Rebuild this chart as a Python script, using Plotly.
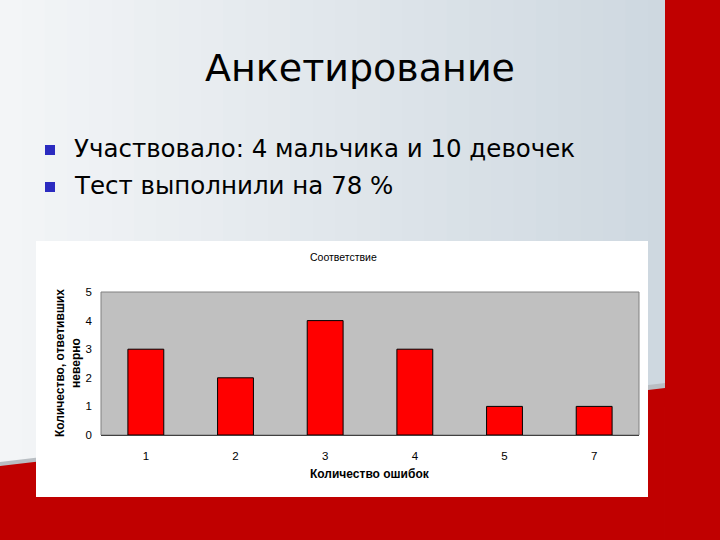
import plotly.graph_objects as go

# ---- data ----
categories = ["1", "2", "3", "4", "5", "7"]
counts = [3, 2, 4, 3, 1, 1]
y_ticks = [0, 1, 2, 3, 4, 5]

slide_title = "Анкетирование"
bullets = ["Участвовало: 4 мальчика и 10 девочек", "Тест выполнили на 78 %"]
chart_title = "Соответствие"
x_title = "Количество ошибок"
y_title = "Количество, ответивших<br>неверно"

W, H = 720, 540
PL, PR, PT, PB = 101, 639, 292, 435  # plot area in pixels


def px(x):
    return (x - PL) / (PR - PL)


def py(y):
    return (PB - y) / (PB - PT)


def lerp(c1, c2, t):
    return "rgb(%d,%d,%d)" % tuple(round(a + (b - a) * t) for a, b in zip(c1, c2))


shapes = []
# background gradient strips
c_left, c_right = (243, 245, 247), (206, 216, 224)
n = 30
for i in range(n):
    x0 = i * 670 / n
    x1 = (i + 1) * 670 / n + 1
    shapes.append(dict(type="rect", xref="paper", yref="paper", layer="below",
                       x0=px(x0), x1=px(x1), y0=py(0), y1=py(H),
                       fillcolor=lerp(c_left, c_right, i / (n - 1)), line=dict(width=0)))
# gray shadow line above red at bottom-left
shapes.append(dict(type="path", xref="paper", yref="paper", layer="below",
                   path="M %f,%f L %f,%f L %f,%f L %f,%f Z" % (
                       px(0), py(462), px(665), py(383), px(665), py(389), px(0), py(468)),
                   fillcolor="rgb(185,190,195)", line=dict(width=0)))
# red bottom region
shapes.append(dict(type="path", xref="paper", yref="paper", layer="below",
                   path="M %f,%f L %f,%f L %f,%f L %f,%f Z" % (
                       px(0), py(466), px(665), py(388), px(665), py(H), px(0), py(H)),
                   fillcolor="#c00000", line=dict(width=0)))
# red right band
shapes.append(dict(type="rect", xref="paper", yref="paper", layer="below",
                   x0=px(665), x1=px(W), y0=py(0), y1=py(H),
                   fillcolor="#c00000", line=dict(width=0)))
# white chart box
shapes.append(dict(type="rect", xref="paper", yref="paper", layer="below",
                   x0=px(36), x1=px(648), y0=py(497), y1=py(241),
                   fillcolor="white", line=dict(width=0)))
# gray plot area
shapes.append(dict(type="rect", xref="paper", yref="paper", layer="below",
                   x0=0, x1=1, y0=0, y1=1,
                   fillcolor="#c0c0c0", line=dict(color="#808080", width=1)))

fig = go.Figure(go.Bar(
    x=categories, y=counts,
    marker=dict(color="#ff0000", line=dict(color="black", width=1)),
    width=0.4,
))

annotations = [
    dict(text=slide_title, x=px(360), y=py(68), xref="paper", yref="paper",
         showarrow=False, font=dict(family="DejaVu Sans", size=38, color="black"),
         xanchor="center", yanchor="middle"),
    dict(text=chart_title, x=px(343), y=py(257), xref="paper", yref="paper",
         showarrow=False, font=dict(family="Liberation Sans", size=10.5, color="black"),
         xanchor="center", yanchor="middle"),
    dict(text="<b>" + x_title + "</b>", x=px(370), y=py(474), xref="paper", yref="paper",
         showarrow=False, font=dict(family="Liberation Sans", size=12, color="black"),
         xanchor="center", yanchor="middle"),
    dict(text="<b>" + y_title + "</b>", x=px(68), y=py(363), xref="paper", yref="paper",
         showarrow=False, textangle=-90,
         font=dict(family="Liberation Sans", size=12, color="black"),
         xanchor="center", yanchor="middle"),
]
for i, b in enumerate(bullets):
    yc = 148 + i * 37
    shapes.append(dict(type="rect", xref="paper", yref="paper", layer="below",
                       x0=px(45), x1=px(55), y0=py(yc - 3), y1=py(yc + 7),
                       fillcolor="#2b2bc0", line=dict(width=0)))
    annotations.append(dict(text=b, x=px(72), y=py(yc), xref="paper", yref="paper",
                            showarrow=False,
                            font=dict(family="DejaVu Sans", size=24.5, color="black"),
                            xanchor="left", yanchor="middle"))

fig.update_layout(
    width=W, height=H,
    margin=dict(l=PL, r=W - PR, t=PT, b=H - PB, pad=0),
    paper_bgcolor="white", plot_bgcolor="rgba(0,0,0,0)",
    shapes=shapes, annotations=annotations,
    showlegend=False,
    xaxis=dict(type="category", showgrid=False, zeroline=False,
               showline=True, linecolor="#404040", linewidth=1,
               ticks="", ticklabelstandoff=10,
               tickfont=dict(family="Liberation Sans", size=11.5, color="black")),
    yaxis=dict(range=[0, 5], tickvals=y_ticks, showgrid=False, zeroline=False,
               showline=False, ticks="", ticklabelstandoff=8,
               tickfont=dict(family="Liberation Sans", size=11.5, color="black")),
)

fig.write_html("out.html", config={"displayModeBar": False, "staticPlot": True})

# remove default page margin so the figure sits at the window origin
with open("out.html", encoding="utf-8") as f:
    html = f.read()
html = html.replace("<body>", '<body style="margin:0;padding:0;overflow:hidden">', 1)
with open("out.html", "w", encoding="utf-8") as f:
    f.write(html)
